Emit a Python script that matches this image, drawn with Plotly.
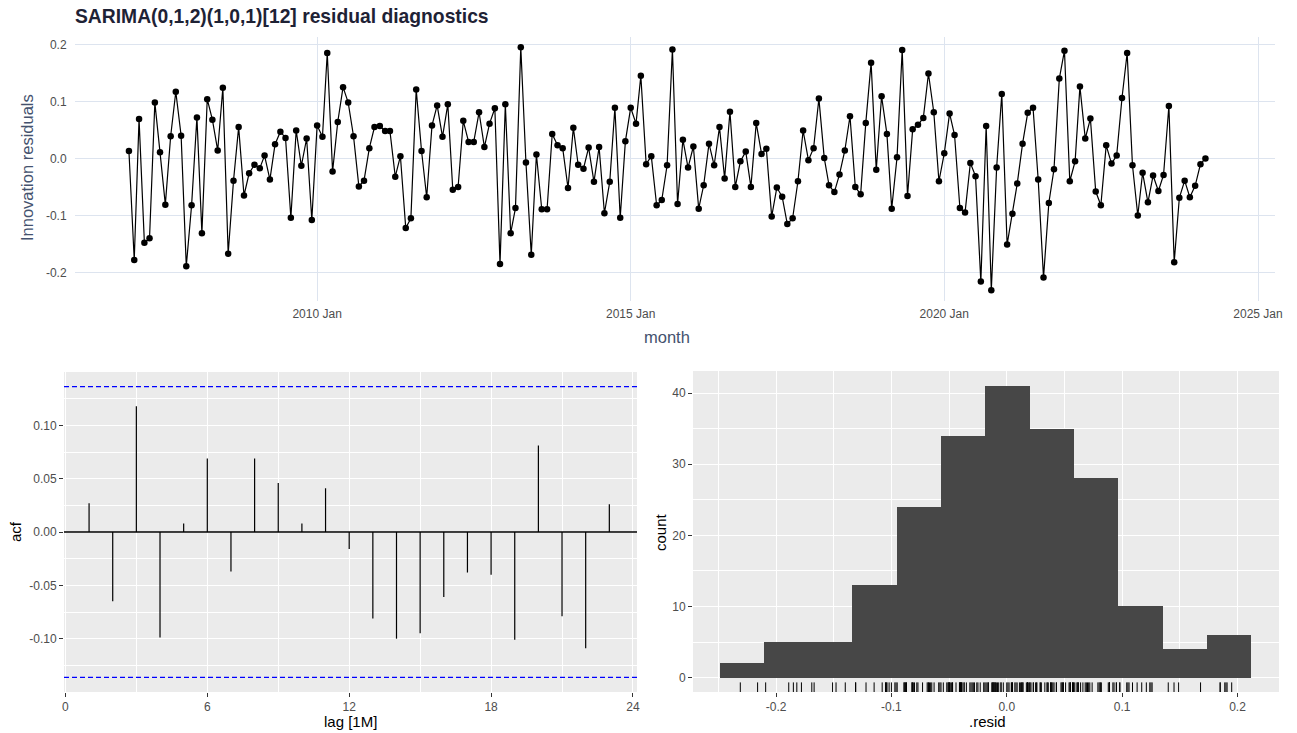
import numpy as np
import pandas as pd
import plotly.graph_objects as go

# ---------------- data ----------------
residuals = [
    0.013, -0.178, 0.069, -0.148, -0.140, 0.098, 0.011, -0.081, 0.039, 0.117,
    0.040, -0.189, -0.082, 0.072, -0.131, 0.104, 0.068, 0.014, 0.124, -0.167,
    -0.039, 0.055, -0.065, -0.026, -0.011, -0.017, 0.005, -0.037, 0.025, 0.047,
    0.036, -0.104, 0.049, -0.013, 0.035, -0.108, 0.058, 0.038, 0.185, -0.023,
    0.064, 0.125, 0.098, 0.039, -0.049, -0.039, 0.018, 0.055, 0.057, 0.048,
    0.048, -0.032, 0.004, -0.122, -0.105, 0.121, 0.013, -0.068, 0.058, 0.093,
    0.038, 0.095, -0.055, -0.050, 0.066, 0.029, 0.029, 0.081, 0.020, 0.061,
    0.088, -0.185, 0.095, -0.131, -0.087, 0.195, -0.007, -0.169, 0.007, -0.089,
    -0.089, 0.043, 0.023, 0.018, -0.052, 0.054, -0.011, -0.018, 0.019, -0.041,
    0.020, -0.096, -0.041, 0.089, -0.104, 0.030, 0.089, 0.061, 0.145, -0.010,
    0.004, -0.082, -0.073, -0.012, 0.191, -0.080, 0.033, -0.016, 0.021, -0.088,
    -0.047, 0.026, -0.012, 0.055, -0.035, 0.082, -0.050, -0.005, 0.012, -0.050,
    0.062, 0.008, 0.017, -0.102, -0.051, -0.067, -0.115, -0.105, -0.040, 0.049,
    -0.003, 0.018, 0.105, 0.001, -0.047, -0.059, -0.028, 0.014, 0.074, -0.050,
    -0.063, 0.062, 0.168, -0.020, 0.109, 0.043, -0.088, 0.002, 0.190, -0.066,
    0.051, 0.059, 0.071, 0.149, 0.081, -0.040, 0.009, 0.079, 0.041, -0.087,
    -0.095, -0.008, -0.031, -0.216, 0.057, -0.231, -0.016, 0.113, -0.151, -0.097,
    -0.044, 0.026, 0.080, 0.089, -0.037, -0.209, -0.078, -0.019, 0.140, 0.189,
    -0.040, -0.005, 0.126, 0.035, 0.070, -0.058, -0.082, 0.023, -0.009, 0.005,
    0.106, 0.185, -0.012, -0.100, -0.025, -0.077, -0.030, -0.057, -0.029, 0.092,
    -0.182, -0.069, -0.039, -0.068, -0.048, -0.010, 0.000,
]
start_month = "2007-01-01"
months = pd.date_range(start_month, periods=len(residuals), freq="MS")

acf_lags = list(range(1, 24))
acf_values = [
    0.027, -0.065, 0.118, -0.099, 0.008, 0.069, -0.037, 0.069, 0.046, 0.008,
    0.041, -0.016, -0.081, -0.100, -0.095, -0.061, -0.038, -0.040, -0.101, 0.081,
    -0.079, -0.109, 0.026,
]

hist_counts = [2, 5, 5, 13, 24, 34, 41, 35, 28, 10, 4, 6]
hist_start = -0.249
hist_binwidth = 0.03842

time_tickvals = ["2010-01-01", "2015-01-01", "2020-01-01", "2025-01-01"]
time_ticktext = ["2010 Jan", "2015 Jan", "2020 Jan", "2025 Jan"]

# ---------------- layout helpers ----------------
W, H = 1297, 733
def px(x):
    return x / W
def py(y):
    return 1 - y / H

FONT = "Liberation Sans, Arial, sans-serif"
TICKCOL = "#4D4D4D"
GG_BG = "#EBEBEB"
TOP_GRID = "#DDE4EF"

fig = go.Figure()

# top: residual time series
fig.add_trace(go.Scatter(
    x=months, y=residuals, mode="lines+markers",
    line=dict(color="black", width=1.2),
    marker=dict(color="black", size=6.5),
    xaxis="x", yaxis="y", showlegend=False, hoverinfo="x+y",
))

# ACF stems
sx, sy = [], []
for lag, v in zip(acf_lags, acf_values):
    sx += [lag, lag, None]
    sy += [0, v, None]
fig.add_trace(go.Scatter(
    x=sx, y=sy, mode="lines", line=dict(color="black", width=1.2),
    xaxis="x2", yaxis="y2", showlegend=False, hoverinfo="skip",
))

# histogram
centers = [hist_start + hist_binwidth * (i + 0.5) for i in range(len(hist_counts))]
fig.add_trace(go.Bar(
    x=centers, y=hist_counts, width=hist_binwidth,
    marker=dict(color="#474747", line=dict(width=0)),
    xaxis="x3", yaxis="y3", showlegend=False,
))

# rug
rug_bottom, rug_top = -2.03, -0.68
rx, ry = [], []
for r in residuals:
    rx += [r, r, None]
    ry += [rug_bottom, rug_top, None]
fig.add_trace(go.Scatter(
    x=rx, y=ry, mode="lines", line=dict(color="black", width=1),
    xaxis="x3", yaxis="y3", showlegend=False, hoverinfo="skip",
))

ci = 1.96 / np.sqrt(len(residuals))

shapes = [
    dict(type="rect", xref="x2 domain", yref="y2 domain", x0=0, x1=1, y0=0, y1=1,
         fillcolor=GG_BG, line=dict(width=0), layer="below"),
    dict(type="rect", xref="x3 domain", yref="y3 domain", x0=0, x1=1, y0=0, y1=1,
         fillcolor=GG_BG, line=dict(width=0), layer="below"),
    dict(type="line", xref="x2 domain", yref="y2", x0=0, x1=1, y0=0, y1=0,
         line=dict(color="black", width=1.3)),
    dict(type="line", xref="x2 domain", yref="y2", x0=0, x1=1, y0=ci, y1=ci,
         line=dict(color="#0000FF", width=1.3, dash="5px,3px")),
    dict(type="line", xref="x2 domain", yref="y2", x0=0, x1=1, y0=-ci, y1=-ci,
         line=dict(color="#0000FF", width=1.3, dash="5px,3px")),
]

gg_common = dict(
    showgrid=True, gridcolor="white", gridwidth=1.1, zeroline=False, showline=False,
    ticks="outside", ticklen=4, tickwidth=1.1, tickcolor="#333333",
    tickfont=dict(family=FONT, size=12, color=TICKCOL), automargin=False,
)

def gg_minor(vals):
    return dict(tickvals=vals, showgrid=True, gridcolor="white", gridwidth=0.55, ticks="")

fig.update_layout(
    width=W, height=H, autosize=False,
    margin=dict(l=0, r=0, t=0, b=0),
    paper_bgcolor="white", plot_bgcolor="white",
    showlegend=False, bargap=0,
    font=dict(family=FONT),
    xaxis=dict(
        domain=[px(75), px(1275)], anchor="y", type="date",
        range=["2006-02-21", "2025-04-10"],
        tickmode="array", tickvals=time_tickvals, ticktext=time_ticktext,
        showgrid=True, gridcolor=TOP_GRID, gridwidth=1, zeroline=False, showline=False,
        ticks="outside", ticklen=2, tickcolor="rgba(0,0,0,0)",
        tickfont=dict(family=FONT, size=12, color=TICKCOL), automargin=False,
    ),
    yaxis=dict(
        domain=[py(301), py(37)], anchor="x",
        range=[-0.250, 0.213],
        tickmode="array", tickvals=[-0.2, -0.1, 0, 0.1, 0.2],
        ticktext=["-0.2", "-0.1", "0.0", "0.1", "0.2"],
        showgrid=True, gridcolor=TOP_GRID, gridwidth=1, zeroline=False, showline=False,
        ticks="outside", ticklen=5, tickcolor="rgba(0,0,0,0)",
        tickfont=dict(family=FONT, size=12, color=TICKCOL), automargin=False,
    ),
    xaxis2=dict(
        domain=[px(64), px(637)], anchor="y2",
        range=[-0.06, 24.17],
        tickmode="array", tickvals=[0, 6, 12, 18, 24],
        minor=gg_minor([3, 9, 15, 21]),
        **gg_common,
    ),
    yaxis2=dict(
        domain=[py(692), py(372)], anchor="x2",
        range=[-0.150, 0.150],
        tickmode="array", tickvals=[-0.1, -0.05, 0, 0.05, 0.1],
        ticktext=["-0.10", "-0.05", "0.00", "0.05", "0.10"],
        minor=gg_minor([-0.125, -0.075, -0.025, 0.025, 0.075, 0.125]),
        **gg_common,
    ),
    xaxis3=dict(
        domain=[px(693), px(1279)], anchor="y3",
        range=[-0.272, 0.236],
        tickmode="array", tickvals=[-0.2, -0.1, 0, 0.1, 0.2],
        ticktext=["-0.2", "-0.1", "0.0", "0.1", "0.2"],
        minor=gg_minor([-0.25, -0.15, -0.05, 0.05, 0.15]),
        **gg_common,
    ),
    yaxis3=dict(
        domain=[py(692), py(371)], anchor="x3",
        range=[-2.03, 43.1],
        tickmode="array", tickvals=[0, 10, 20, 30, 40],
        minor=gg_minor([5, 15, 25, 35]),
        **gg_common,
    ),
    shapes=shapes,
)

TITLE_COL = "#1e2235"
SLATE = "#44526e"
ann = [
    dict(text="<b>SARIMA(0,1,2)(1,0,1)[12] residual diagnostics</b>",
         x=px(73), y=py(17), xanchor="left", yanchor="middle",
         font=dict(family=FONT, size=19.3, color=TITLE_COL)),
    dict(text="Innovation residuals", x=px(27), y=py(168), textangle=-90,
         xanchor="center", yanchor="middle", font=dict(family=FONT, size=16.5, color=SLATE)),
    dict(text="month", x=px(667), y=py(337), xanchor="center", yanchor="middle",
         font=dict(family=FONT, size=16.5, color=SLATE)),
    dict(text="acf", x=px(15), y=py(532), textangle=-90, xanchor="center", yanchor="middle",
         font=dict(family=FONT, size=15, color="black")),
    dict(text="lag [1M]", x=px(350), y=py(721), xanchor="center", yanchor="middle",
         font=dict(family=FONT, size=15, color="black")),
    dict(text="count", x=px(660), y=py(532), textangle=-90, xanchor="center", yanchor="middle",
         font=dict(family=FONT, size=15, color="black")),
    dict(text=".resid", x=px(987), y=py(721), xanchor="center", yanchor="middle",
         font=dict(family=FONT, size=15, color="black")),
]
for a in ann:
    a.update(xref="paper", yref="paper", showarrow=False)
fig.update_layout(annotations=ann)

fig.write_html(
    "out.html",
    config={"responsive": False, "displayModeBar": False},
    post_script=(
        "document.documentElement.style.overflow='hidden';"
        "document.body.style.overflow='hidden';"
        "document.body.style.margin='0';document.body.style.padding='0';"
    ),
)
